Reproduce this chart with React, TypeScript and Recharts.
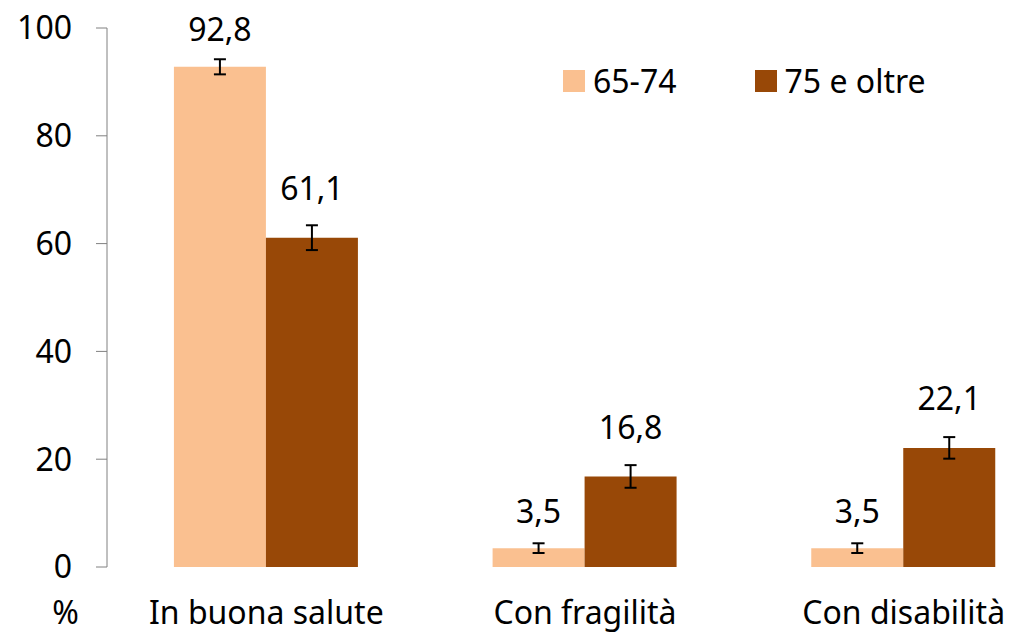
import { BarChart, Bar, XAxis, YAxis, ErrorBar, LabelList } from 'recharts';

const categories = ['In buona salute', 'Con fragilità', 'Con disabilità'];
const seriesNames = ['65-74', '75 e oltre'];
const young = [92.8, 3.5, 3.5];
const old = [61.1, 16.8, 22.1];
const youngErr = [1.4, 0.9, 0.9];
const oldErr = [2.3, 2.1, 2.0];
const yTicks = [0, 20, 40, 60, 80, 100];

const colors = ['#FAC090', '#984807'];
const font = "'Noto Sans', sans-serif";

const data = categories.map((name, i) => ({
  name,
  young: young[i],
  old: old[i],
  youngErr: youngErr[i],
  oldErr: oldErr[i],
}));

const fmt = (v: number) => v.toFixed(1).replace('.', ',');

// labels sit above the error bars, like in the original
const makeLabel = (lift: number) => (props: any) => {
  const { x, y, width, value } = props;
  return (
    <text
      x={x + width / 2}
      y={y - lift}
      textAnchor="middle"
      dominantBaseline="central"
      fontSize={32}
      fontFamily={font}
      fill="#000"
    >
      {fmt(value)}
    </text>
  );
};

// legend drawn as an overlay so it doesn't eat plot space
const ChartLegend = () => (
  <div
    style={{
      position: 'absolute',
      left: 563,
      top: 63,
      display: 'flex',
      alignItems: 'center',
      fontFamily: font,
      fontSize: 32,
    }}
  >
    {seriesNames.map((n, i) => (
      <div key={n} style={{ display: 'flex', alignItems: 'center', marginRight: i === 0 ? 78 : 0 }}>
        <span style={{ width: 22, height: 22, background: colors[i], display: 'inline-block', marginRight: 8 }} />
        <span style={{ color: '#000', lineHeight: '36px' }}>{n}</span>
      </div>
    ))}
  </div>
);

export default function App() {
  return (
    <div
      style={{
        position: 'fixed',
        left: 0,
        top: 0,
        width: 1013,
        height: 633,
        overflow: 'hidden',
        background: '#fff',
        fontFamily: font,
      }}
    >
      <BarChart
        width={1063}
        height={633}
        data={data}
        margin={{ top: 28, right: 0, left: 0, bottom: 6 }}
        barCategoryGap="21%"
        barGap={0}
      >
        <YAxis
          width={107}
          domain={[0, 100]}
          ticks={yTicks}
          interval={0}
          tickSize={11}
          tickMargin={24}
          stroke="#808080"
          tick={{ fontSize: 32, fill: '#000', fontFamily: font }}
          label={{ value: '%', position: 'bottom', offset: 34, dx: 12, fontSize: 32, fill: '#000', fontFamily: font }}
        />
        <XAxis
          dataKey="name"
          height={60}
          axisLine={false}
          tickLine={false}
          tickSize={6}
          tickMargin={28}
          interval={0}
          tick={{ fontSize: 32, fill: '#000', fontFamily: font }}
        />
        <Bar dataKey="young" name={seriesNames[0]} fill={colors[0]} isAnimationActive={false}>
          <ErrorBar dataKey="youngErr" width={6} strokeWidth={2} stroke="#000" />
          <LabelList dataKey="young" content={makeLabel(38)} />
        </Bar>
        <Bar dataKey="old" name={seriesNames[1]} fill={colors[1]} isAnimationActive={false}>
          <ErrorBar dataKey="oldErr" width={6} strokeWidth={2} stroke="#000" />
          <LabelList dataKey="old" content={makeLabel(50)} />
        </Bar>
      </BarChart>
      <ChartLegend />
    </div>
  );
}
